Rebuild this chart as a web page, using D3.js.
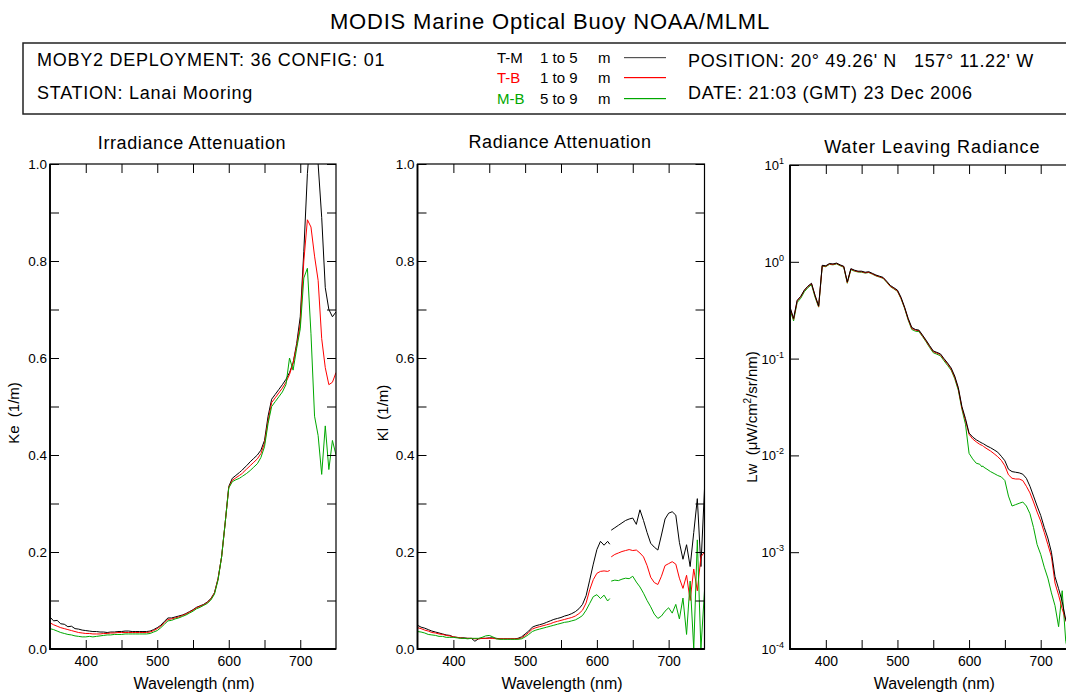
<!DOCTYPE html>
<html>
<head>
<meta charset="utf-8">
<script src="https://cdn.jsdelivr.net/npm/d3@7"></script>
<style>
  body { margin: 0; background: #fff; }
  text { font-family: "Liberation Sans", Arial, sans-serif; fill: #000; }
</style>
</head>
<body>
<div id="chart"></div>
<script>
// wavelengths (nm) shared by all spectra
const wavelength = [350,355,360,365,370,375,380,385,390,395,400,405,410,415,420,425,430,435,440,445,
  450,455,460,465,470,475,480,485,490,495,500,505,510,515,520,525,530,535,540,545,
  550,555,560,565,570,575,580,585,590,595,600,605,610,615,618,619,
  620,625,630,635,640,645,650,655,660,665,670,675,680,685,690,695,700,705,710,715,
  720,725,730,735,740,745,750];

// Irradiance attenuation Ke (1/m)
const keTM = [0.066,0.058,0.059,0.052,0.051,0.046,0.047,0.042,0.041,0.039,
  0.038,0.037,0.036,0.036,0.035,0.035,0.034,0.035,0.035,0.036,
  0.036,0.037,0.037,0.036,0.036,0.036,0.036,0.036,0.037,0.040,
  0.044,0.049,0.057,0.064,0.064,0.066,0.068,0.070,0.073,0.077,
  0.081,0.086,0.089,0.092,0.097,0.104,0.116,0.145,0.190,0.260,
  0.335,0.352,0.358,0.364,0.368,0.369,
  0.371,0.378,0.386,0.393,0.400,0.410,0.430,0.480,0.515,0.525,
  0.535,0.545,0.556,0.570,0.590,0.630,0.685,0.820,0.980,1.080,
  1.090,1.000,0.890,0.745,0.700,0.685,0.695];
const keTB = [0.054,0.050,0.047,0.044,0.042,0.040,0.038,0.036,0.034,0.033,
  0.032,0.032,0.031,0.031,0.031,0.032,0.032,0.033,0.033,0.034,
  0.034,0.034,0.034,0.034,0.034,0.034,0.034,0.034,0.035,0.038,
  0.042,0.047,0.054,0.061,0.062,0.064,0.066,0.069,0.072,0.076,
  0.080,0.085,0.088,0.091,0.096,0.103,0.115,0.144,0.190,0.260,
  0.333,0.348,0.353,0.358,0.361,0.362,
  0.364,0.371,0.378,0.385,0.392,0.403,0.424,0.470,0.508,0.518,
  0.528,0.538,0.550,0.566,0.590,0.625,0.670,0.800,0.885,0.870,
  0.810,0.760,0.640,0.580,0.545,0.550,0.570];
const keMB = [0.042,0.040,0.037,0.034,0.032,0.030,0.029,0.027,0.026,0.025,
  0.025,0.026,0.025,0.026,0.027,0.028,0.029,0.029,0.030,0.030,
  0.030,0.031,0.031,0.031,0.031,0.031,0.031,0.031,0.032,0.035,
  0.038,0.044,0.051,0.058,0.059,0.062,0.064,0.067,0.070,0.074,
  0.078,0.083,0.086,0.090,0.094,0.101,0.113,0.142,0.190,0.260,
  0.332,0.345,0.349,0.352,0.355,0.356,
  0.357,0.362,0.368,0.375,0.382,0.395,0.417,0.465,0.500,0.510,
  0.520,0.530,0.545,0.600,0.575,0.620,0.660,0.765,0.785,0.650,
  0.480,0.440,0.360,0.460,0.370,0.430,0.400];

// Radiance attenuation Kl (1/m), null = gap between spectrometers
const klTM = [0.049,0.045,0.043,0.040,0.037,0.035,0.033,0.031,0.029,0.028,
  0.025,0.024,0.023,0.023,0.022,0.022,0.016,0.021,0.022,0.022,
  0.023,0.023,0.022,0.021,0.021,0.021,0.021,0.021,0.022,0.025,
  0.031,0.037,0.045,0.048,0.050,0.052,0.055,0.058,0.061,0.063,
  0.065,0.068,0.070,0.073,0.077,0.083,0.092,0.110,0.142,0.175,
  0.205,0.222,0.214,0.222,0.216,null,
  0.245,0.250,0.255,0.260,0.265,0.268,0.270,0.257,0.287,0.265,
  0.240,0.218,0.210,0.204,0.235,0.268,0.280,0.283,0.276,0.220,
  0.185,0.215,0.170,0.240,0.310,0.170,0.330];
const klTB = [0.044,0.042,0.039,0.037,0.034,0.033,0.031,0.030,0.028,0.027,
  0.025,0.024,0.023,0.022,0.022,0.022,0.021,0.021,0.022,0.022,
  0.022,0.022,0.021,0.021,0.021,0.021,0.021,0.021,0.021,0.023,
  0.028,0.034,0.041,0.044,0.046,0.048,0.050,0.052,0.055,0.057,
  0.059,0.061,0.063,0.065,0.068,0.073,0.080,0.095,0.122,0.143,
  0.156,0.160,0.161,0.160,0.162,null,
  0.190,0.195,0.198,0.201,0.203,0.205,0.203,0.204,0.198,0.190,
  0.172,0.148,0.137,0.133,0.150,0.172,0.176,0.180,0.175,0.146,
  0.125,0.152,0.100,0.165,0.120,0.190,0.200];
const klMB = [0.036,0.035,0.033,0.030,0.029,0.028,0.026,0.026,0.024,0.024,
  0.024,0.023,0.022,0.022,0.021,0.022,0.022,0.022,0.024,0.027,
  0.028,0.025,0.021,0.020,0.020,0.020,0.020,0.020,0.020,0.021,
  0.025,0.030,0.036,0.039,0.041,0.043,0.045,0.047,0.049,0.051,
  0.053,0.055,0.056,0.058,0.060,0.064,0.069,0.080,0.094,0.108,
  0.112,0.104,0.111,0.099,0.104,null,
  0.140,0.142,0.141,0.144,0.146,0.145,0.150,0.138,0.128,0.115,
  0.100,0.087,0.072,0.063,0.068,0.078,0.085,0.074,0.092,0.062,
  0.105,0.030,0.140,0.000,0.225,0.000,0.120];

// Water leaving radiance Lw (uW/cm2/sr/nm)
const lwTM = [0.34,0.26,0.40,0.44,0.51,0.56,0.60,0.45,0.35,0.92,
  0.91,0.96,0.95,0.97,0.93,0.90,0.62,0.85,0.82,0.80,
  0.80,0.78,0.79,0.76,0.73,0.71,0.69,0.63,0.57,0.54,
  0.51,0.43,0.34,0.26,0.21,0.20,0.197,0.175,0.155,0.136,
  0.12,0.116,0.112,0.10,0.09,0.08,0.066,0.05,0.032,0.024,
  0.017,0.0155,0.0145,0.0138,0.0134,0.0133,
  0.0132,0.0125,0.012,0.0114,0.0108,0.0098,0.0088,0.0072,0.0068,0.0067,
  0.0066,0.0064,0.0058,0.0048,0.0038,0.003,0.0024,0.0018,0.0014,0.001,
  0.00056,0.00042,0.00031,0.0002,0.00016,0.00013,0.0001];
const lwTB = [0.335,0.255,0.395,0.435,0.505,0.555,0.595,0.445,0.345,0.91,
  0.90,0.95,0.94,0.96,0.92,0.89,0.61,0.84,0.81,0.79,
  0.79,0.77,0.78,0.75,0.72,0.70,0.68,0.62,0.56,0.53,
  0.50,0.42,0.335,0.255,0.205,0.197,0.194,0.172,0.152,0.133,
  0.118,0.114,0.110,0.098,0.088,0.078,0.064,0.049,0.031,0.023,
  0.0165,0.0148,0.0138,0.013,0.0127,0.0126,
  0.0124,0.0117,0.0111,0.0104,0.0097,0.0089,0.0078,0.0063,0.0058,0.0057,
  0.0057,0.0055,0.0048,0.0041,0.0033,0.0026,0.0021,0.0016,0.0012,0.0009,
  0.00048,0.00036,0.00026,0.0002,0.00015,0.00012,0.0001];
const lwMB = [0.32,0.245,0.38,0.42,0.49,0.54,0.58,0.43,0.34,0.90,
  0.89,0.94,0.93,0.95,0.91,0.88,0.60,0.83,0.80,0.785,
  0.78,0.765,0.775,0.745,0.715,0.695,0.675,0.615,0.555,0.525,
  0.495,0.415,0.33,0.25,0.20,0.192,0.19,0.169,0.149,0.130,
  0.115,0.111,0.107,0.095,0.085,0.076,0.062,0.047,0.03,0.021,
  0.0105,0.0092,0.0083,0.0081,0.0076,0.0078,
  0.0076,0.0072,0.0068,0.0065,0.0062,0.006,0.0055,0.0038,0.003,0.0031,
  0.0032,0.0033,0.003,0.0025,0.0018,0.0012,0.00095,0.0007,0.00054,0.00038,
  0.00028,0.00017,0.0004,0.00012,0.00008,0.0001,0.00005];

// axis ticks
const xTicks = [400,450,500,550,600,650,700];
const kTicks = [0,0.1,0.2,0.3,0.4,0.5,0.6,0.7,0.8,0.9,1.0];
const kTickLabels = [0,0.2,0.4,0.6,0.8,1.0];
const lwTickExp = [1,0,-1,-2,-3,-4];

// legend
const legendCodes = ["T-M","T-B","M-B"];
const legendRanges = ["1 to 5","1 to 9","5 to 9"];
const colors = ["#000000","#ff0000","#00a800"];
const legendLineColors = ["#555555","#ff0000","#00a800"];

const W = 1066, H = 692;
const svg = d3.select("#chart").append("svg")
    .attr("width", W).attr("height", H);
svg.append("rect").attr("width", W).attr("height", H).attr("fill", "#fff");

// ---- header ----
svg.append("text")
    .attr("x", 550).attr("y", 29)
    .attr("text-anchor", "middle")
    .style("font-size", "22px").style("letter-spacing", "0.8px")
    .text("MODIS Marine Optical Buoy NOAA/MLML");

svg.append("rect")
    .attr("x", 23).attr("y", 43).attr("width", 1060).attr("height", 71)
    .attr("fill", "none").attr("stroke", "#222").attr("stroke-width", 1.5);

const headLeft = ["MOBY2 DEPLOYMENT: 36 CONFIG: 01", "STATION: Lanai Mooring"];
const headRight = ["POSITION: 20\u00b0 49.26' N \u00a0 157\u00b0 11.22' W", "DATE: 21:03 (GMT) 23 Dec 2006"];
const headY = [66, 98.5];
headLeft.forEach((t, i) => {
  svg.append("text").attr("x", 37).attr("y", headY[i])
      .style("font-size", "18px").style("letter-spacing", "0.75px").text(t);
});
headRight.forEach((t, i) => {
  svg.append("text").attr("x", 688).attr("y", headY[i] + 0.5)
      .style("font-size", "18px").style("letter-spacing", "0.65px").text(t);
});

const legY = [62.5, 83, 103.5];
legendCodes.forEach((c, i) => {
  svg.append("text").attr("x", 497).attr("y", legY[i])
      .style("font-size", "15px").style("fill", colors[i]).text(c);
  svg.append("text").attr("x", 540).attr("y", legY[i])
      .style("font-size", "15px").text(legendRanges[i]);
  svg.append("text").attr("x", 598).attr("y", legY[i])
      .style("font-size", "15px").text("m");
  svg.append("rect")
      .attr("x", 624).attr("width", 42)
      .attr("y", Math.round(legY[i] - 6)).attr("height", 1.2)
      .style("fill", legendLineColors[i]);
});

// ---- panels ----
const panels = [
  {title: "Irradiance Attenuation", titleY: 149, left: 50, right: 336, top: 164, bottom: 649,
   labelX: 19, ylabel: "Ke", series: [keTM, keTB, keMB], order: [0, 1, 2], log: false},
  {title: "Radiance Attenuation", titleY: 148, left: 417.5, right: 704.5, top: 164, bottom: 649,
   labelX: 388, ylabel: "Kl", series: [klTM, klTB, klMB], order: [0, 1, 2], log: false},
  {title: "Water Leaving Radiance", titleY: 153, left: 790, right: 1076.5, top: 165, bottom: 649,
   labelX: 757, ylabel: "Lw", series: [lwTM, lwTB, lwMB], order: [2, 1, 0], log: true}
];

function styleAxis(g, size) {
  g.select(".domain").remove();
  g.selectAll(".tick line").attr("stroke", "#000").attr("stroke-width", 1);
  g.selectAll(".tick text")
      .attr("fill", "#000")
      .style("font-size", size);
  g.attr("font-family", null).attr("font-size", null);
}

panels.forEach((p, pi) => {
  const x = d3.scaleLinear().domain([350, 750]).range([p.left, p.right]);
  const y = p.log
      ? d3.scaleLog().domain([1e-4, 10]).range([p.bottom, p.top])
      : d3.scaleLinear().domain([0, 1]).range([p.bottom, p.top]);
  const yTicks = p.log ? lwTickExp.map(e => Math.pow(10, e)) : kTicks;

  const g = svg.append("g");

  g.append("text")
      .attr("x", (p.left + p.right) / 2 - 1).attr("y", p.titleY)
      .attr("text-anchor", "middle")
      .style("font-size", "18px").style("letter-spacing", p.log ? "0.9px" : "0.6px")
      .text(p.title);

  // clip
  const clipId = "clip" + pi;
  svg.append("clipPath").attr("id", clipId)
    .append("rect")
      .attr("x", p.left).attr("y", p.top)
      .attr("width", p.right - p.left).attr("height", p.bottom - p.top);

  // spectra
  const line = d3.line()
      .defined(d => d[1] != null)
      .x(d => x(d[0]))
      .y(d => y(d[1]));
  const lines = g.append("g").attr("clip-path", `url(#${clipId})`);
  p.order.forEach(si => {
    const pts = wavelength.map((w, k) => [w, p.series[si][k]]);
    lines.append("path")
        .attr("d", line(pts))
        .attr("fill", "none")
        .attr("stroke", colors[si])
        .attr("stroke-width", 1)
        .attr("stroke-linejoin", "round");
  });

  // axes (ticks point inward)
  g.append("g")
      .attr("transform", `translate(0,${p.bottom})`)
      .call(d3.axisBottom(x).tickValues(xTicks).tickSize(-9).tickSizeOuter(0)
          .tickPadding(7).tickFormat(d => d % 100 === 0 ? d : ""))
      .call(a => styleAxis(a, "14px"));
  g.append("g")
      .attr("transform", `translate(0,${p.top})`)
      .call(d3.axisTop(x).tickValues(xTicks).tickSize(-9).tickSizeOuter(0).tickFormat(""))
      .call(a => styleAxis(a, "14px"));

  const leftAxis = d3.axisLeft(y).tickValues(yTicks).tickSize(-9).tickSizeOuter(0).tickPadding(3);
  if (p.log) leftAxis.tickFormat("");
  else leftAxis.tickFormat(d => kTickLabels.some(v => Math.abs(v - d) < 1e-6) ? d3.format(".1f")(d) : "");
  g.append("g")
      .attr("transform", `translate(${p.left},0)`)
      .call(leftAxis)
      .call(a => styleAxis(a, "13.5px"));
  g.append("g")
      .attr("transform", `translate(${p.right},0)`)
      .call(d3.axisRight(y).tickValues(yTicks).tickSize(-9).tickSizeOuter(0).tickFormat(""))
      .call(a => styleAxis(a, "13.5px"));

  if (p.log) {
    lwTickExp.forEach(e => {
      const t = g.append("text")
          .attr("x", p.left - 6).attr("y", y(Math.pow(10, e)) + 5)
          .attr("text-anchor", "end")
          .style("font-size", "13px");
      t.append("tspan").text("10");
      t.append("tspan").attr("dy", -6).style("font-size", "9px").text(e);
    });
  }

  // frame
  g.append("rect")
      .attr("x", p.left).attr("y", p.top)
      .attr("width", p.right - p.left).attr("height", p.bottom - p.top)
      .attr("fill", "none").attr("stroke", "#000").attr("stroke-width", 1.2);
  g.append("path")
      .attr("d", `M${p.left},${p.top}V${p.bottom}H${p.right}`)
      .attr("fill", "none").attr("stroke", "#000").attr("stroke-width", 1.8);

  // axis titles
  g.append("text")
      .attr("x", (p.left + p.right) / 2 + 1).attr("y", 689)
      .attr("text-anchor", "middle")
      .style("font-size", "16px")
      .text("Wavelength (nm)");

  const yl = g.append("text")
      .attr("transform", `translate(${p.labelX},${p.log ? 417 : 413}) rotate(-90)`)
      .attr("text-anchor", "middle")
      .style("font-size", "15px");
  if (p.log) {
    yl.append("tspan").text("Lw\u00a0 (\u03bcW/cm");
    yl.append("tspan").attr("dy", -6).style("font-size", "10px").text("2");
    yl.append("tspan").attr("dy", 6).text("/sr/nm)");
  } else {
    yl.text(p.ylabel + "\u00a0 (1/m)");
  }
});
</script>
</body>
</html>
